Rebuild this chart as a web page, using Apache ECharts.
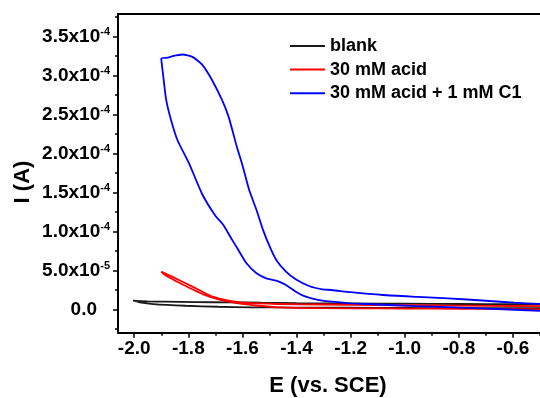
<!DOCTYPE html>
<html>
<head>
<meta charset="utf-8">
<script src="https://cdn.jsdelivr.net/npm/echarts@6/dist/echarts.min.js"></script>
<style>
  html, body { margin: 0; padding: 0; background: #fff; }
  #chart { width: 540px; height: 398px; }
</style>
</head>
<body>
<div id="chart"></div>
<script>
// Cyclic voltammograms: potential E (V vs. SCE) and current I (in units of 1e-5 A)
const blankE = [-0.50, -0.60, -0.80, -1.00, -1.20, -1.40, -1.53, -1.65, -1.77, -1.89, -1.95, -2.004,
                -1.98, -1.93, -1.81, -1.69, -1.57, -1.40, -1.20, -1.00, -0.80, -0.50];
const blankI = [0.63, 0.65, 0.68, 0.72, 0.75, 0.80, 0.85, 0.90, 0.92, 0.98, 1.02, 1.10,
                0.90, 0.68, 0.46, 0.33, 0.26, 0.22, 0.20, 0.18, 0.15, 0.15];

const acidE = [-0.50, -0.70, -0.90, -1.10, -1.30, -1.47, -1.59, -1.66, -1.71, -1.76, -1.81, -1.86, -1.90,
               -1.88, -1.83, -1.785, -1.74, -1.69, -1.615, -1.54, -1.47, -1.30, -1.10, -0.90, -0.70, -0.50];
const acidI = [0.40, 0.45, 0.50, 0.55, 0.62, 0.68, 0.85, 1.19, 1.62, 2.48, 3.34, 4.19, 4.83,
               4.28, 3.34, 2.57, 1.84, 1.28, 0.77, 0.46, 0.26, 0.15, 0.12, 0.08, 0.05, 0.00];

const c1E = [-0.50, -0.595, -0.70, -0.84, -0.95, -1.08, -1.20, -1.27, -1.305, -1.354, -1.403, -1.439,
             -1.475, -1.499, -1.524, -1.548, -1.575, -1.60, -1.621, -1.651, -1.676, -1.712, -1.749, -1.785,
             -1.821, -1.858, -1.875, -1.90,
             -1.894, -1.882, -1.864, -1.840, -1.797, -1.749, -1.70, -1.670, -1.645, -1.615, -1.585, -1.548,
             -1.512, -1.475, -1.439, -1.403, -1.366, -1.317, -1.269, -1.20, -0.96, -0.72, -0.50];
const c1I = [0.70, 0.85, 1.10, 1.41, 1.60, 1.84, 2.20, 2.48, 2.57, 2.99, 3.85, 4.83,
             6.33, 8.04, 10.2, 12.75, 15.3, 18.5, 20.9, 24.7, 26.9, 29.4, 31.4, 32.4,
             32.7, 32.5, 32.3, 32.2,
             30.3, 26.9, 24.3, 21.7, 18.7, 14.8, 12.0, 10.8, 9.32, 7.61, 5.91, 4.62,
             3.98, 3.67, 3.12, 2.26, 1.62, 1.19, 0.98, 0.77, 0.42, 0.13, -0.20];

// Axis ticks
const xMajor = [-2.0, -1.8, -1.6, -1.4, -1.2, -1.0, -0.8, -0.6];
const xMajorLabels = ['-2.0', '-1.8', '-1.6', '-1.4', '-1.2', '-1.0', '-0.8', '-0.6'];
const xMinor = [-1.9, -1.7, -1.5, -1.3, -1.1, -0.9, -0.7, -0.5];
const yMajor = [0, 5e-5, 1e-4, 1.5e-4, 2e-4, 2.5e-4, 3e-4, 3.5e-4];
const yMantissa = ['0.0', '5.0', '1.0', '1.5', '2.0', '2.5', '3.0', '3.5'];
const yExponent = ['', '-5', '-4', '-4', '-4', '-4', '-4', '-4'];
const yMinor = [-2.5e-5, 2.5e-5, 7.5e-5, 1.25e-4, 1.75e-4, 2.25e-4, 2.75e-4, 3.25e-4, 3.75e-4];

const FONT = "'Liberation Sans', Arial, sans-serif";

function pairs(E, I) {
  return E.map((e, i) => [e, I[i] * 1e-5]);
}

function yLabel(v) {
  const i = yMajor.findIndex(t => Math.abs(t - v) < 1e-9);
  if (i < 0) return '';
  if (!yExponent[i]) return '{z|' + yMantissa[i] + '}';
  return '{b|' + yMantissa[i] + 'x10}{s|' + yExponent[i] + '}';
}

function xLabel(v) {
  const i = xMajor.findIndex(t => Math.abs(t - v) < 1e-9);
  return i < 0 ? '' : xMajorLabels[i];
}

const X_MIN = -2.06, X_MAX = -0.5, Y_MIN = -3e-5, Y_MAX = 3.79e-4;
const axisColor = '#000';

const chart = echarts.init(document.getElementById('chart'), null, { renderer: 'canvas' });
chart.setOption({
  animation: false,
  backgroundColor: '#fff',
  grid: { left: 118, top: 14, right: -6, bottom: 65.3, containLabel: false },
  legend: {
    orient: 'vertical', left: 290, top: 37, padding: 0,
    icon: 'rect', itemWidth: 35, itemHeight: 2, itemGap: 5.6,
    textStyle: { fontFamily: FONT, fontWeight: 'bold', fontSize: 18, color: '#000', lineHeight: 16 },
    data: ['blank', '30 mM acid', '30 mM acid + 1 mM C1']
  },
  xAxis: [
    {
      type: 'value', position: 'bottom', min: X_MIN, max: X_MAX,
      axisLine: { show: true, onZero: false, lineStyle: { color: axisColor, width: 2 } },
      axisTick: { show: true, inside: false, length: 5, customValues: xMajor, lineStyle: { color: axisColor, width: 1.5 } },
      axisLabel: { show: true, margin: 7, customValues: xMajor, formatter: xLabel,
        fontFamily: FONT, fontWeight: 'bold', fontSize: 19, color: '#000' },
      splitLine: { show: false }
    },
    {
      type: 'value', position: 'bottom', min: X_MIN, max: X_MAX,
      axisLine: { show: false, onZero: false },
      axisTick: { show: true, length: 3, customValues: xMinor, lineStyle: { color: axisColor, width: 1.5 } },
      axisLabel: { show: false },
      splitLine: { show: false }
    },
    {
      type: 'value', position: 'top', min: X_MIN, max: X_MAX,
      axisLine: { show: true, onZero: false, lineStyle: { color: axisColor, width: 2 } },
      axisTick: { show: false }, axisLabel: { show: false }, splitLine: { show: false }
    }
  ],
  yAxis: [
    {
      type: 'value', position: 'left', min: Y_MIN, max: Y_MAX,
      axisLine: { show: true, onZero: false, lineStyle: { color: axisColor, width: 2 } },
      axisTick: { show: true, inside: false, length: 5, customValues: yMajor, lineStyle: { color: axisColor, width: 1.5 } },
      axisLabel: {
        show: true, margin: 8, customValues: yMajor, formatter: yLabel,
        rich: {
          b: { fontFamily: FONT, fontWeight: 'bold', fontSize: 19, color: '#000', lineHeight: 20 },
          z: { fontFamily: FONT, fontWeight: 'bold', fontSize: 19, color: '#000', lineHeight: 20, padding: [0, 13, 0, 0] },
          s: { fontFamily: FONT, fontWeight: 'bold', fontSize: 11, color: '#000', verticalAlign: 'top', lineHeight: 13 }
        }
      },
      splitLine: { show: false }
    },
    {
      type: 'value', position: 'left', offset: 0, min: Y_MIN, max: Y_MAX,
      axisLine: { show: false, onZero: false },
      axisTick: { show: true, length: 3, customValues: yMinor, lineStyle: { color: axisColor, width: 1.5 } },
      axisLabel: { show: false },
      splitLine: { show: false }
    }
  ],
  graphic: [
    { type: 'text', x: 328, y: 386,
      style: { text: 'E (vs. SCE)', fontFamily: FONT, fontWeight: 'bold', fontSize: 22, fill: '#000', align: 'center', verticalAlign: 'middle' } },
    { type: 'text', x: 23, y: 182, rotation: Math.PI / 2,
      style: { text: 'I (A)', fontFamily: FONT, fontWeight: 'bold', fontSize: 22, fill: '#000', align: 'center', verticalAlign: 'middle' } }
  ],
  series: [
    { name: 'blank', type: 'line', xAxisIndex: 0, yAxisIndex: 0, symbol: 'none', smooth: 0.2,
      lineStyle: { color: '#1a1a1a', width: 1.8 }, itemStyle: { color: '#1a1a1a' }, data: pairs(blankE, blankI) },
    { name: '30 mM acid', type: 'line', xAxisIndex: 0, yAxisIndex: 0, symbol: 'none', smooth: 0.2,
      lineStyle: { color: '#ff0000', width: 1.8 }, itemStyle: { color: '#ff0000' }, data: pairs(acidE, acidI) },
    { name: '30 mM acid + 1 mM C1', type: 'line', xAxisIndex: 0, yAxisIndex: 0, symbol: 'none', smooth: 0.2,
      lineStyle: { color: '#0000ff', width: 1.8 }, itemStyle: { color: '#0000ff' }, data: pairs(c1E, c1I) }
  ]
});
</script>
</body>
</html>
